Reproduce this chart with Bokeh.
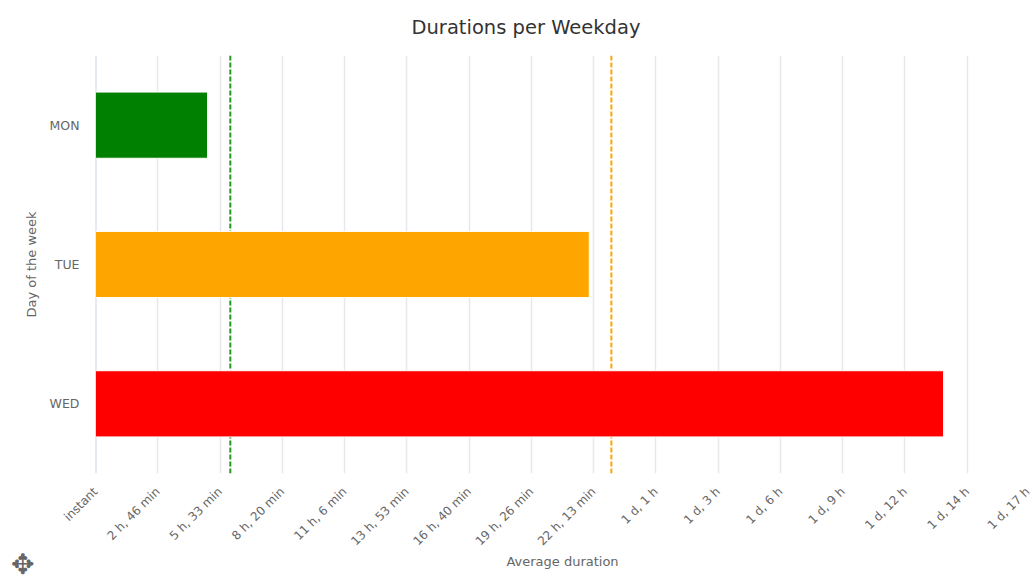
import math
from bokeh.plotting import figure
from bokeh.models import FixedTicker, Span, Title
from bokeh.embed import file_html
from bokeh.resources import INLINE

days = ["MON", "TUE", "WED"]
durations = [18000, 79300, 136200]
bar_colors = ["green", "orange", "red"]
tick_values = [i * 10000 for i in range(16)]
tick_labels = ["instant", "2 h, 46 min", "5 h, 33 min", "8 h, 20 min", "11 h, 6 min",
               "13 h, 53 min", "16 h, 40 min", "19 h, 26 min", "22 h, 13 min", "1 d, 1 h",
               "1 d, 3 h", "1 d, 6 h", "1 d, 9 h", "1 d, 12 h", "1 d, 14 h", "1 d, 17 h"]
green_threshold = 21650
orange_threshold = 82850
FONT = "DejaVu Sans"

p = figure(width=1032, height=580, output_backend="svg", toolbar_location=None,
           x_range=(0, 150000), y_range=list(reversed(days)),
           min_border_left=95, min_border_right=3, min_border_top=55, min_border_bottom=107,
           outline_line_color=None, background_fill_color="white", border_fill_color="white")

p.title = Title(text="Durations per Weekday", align="left", offset=316, standoff=30, vertical_align="top",
                text_font=FONT, text_font_size="19.5px", text_font_style="normal",
                text_color="#333333")

p.xgrid.ticker = FixedTicker(ticks=tick_values)
p.xgrid.grid_line_color = "#e8e8ec"
p.xgrid.grid_line_width = 1.5
p.ygrid.grid_line_color = None

p.add_layout(Span(location=0, dimension="height", line_color="#ccd6eb", line_width=2, level="underlay"))
p.add_layout(Span(location=green_threshold, dimension="height", line_color="#1f9a1f", line_width=2,
                  line_dash="5 2", level="underlay"))
p.add_layout(Span(location=orange_threshold, dimension="height", line_color="orange", line_width=2,
                  line_dash="5 2", level="underlay"))

p.hbar(y=days, left=0, right=durations, height=0.475, fill_color=bar_colors,
       line_color="white", line_width=1)

xa = p.below[0]
xa.ticker = FixedTicker(ticks=tick_values)
xa.major_label_overrides = dict(zip(tick_values, tick_labels))
xa.major_label_orientation = math.pi / 4
xa.major_label_standoff = 10
xa.major_label_text_font = FONT
xa.major_label_text_font_size = "12px"
xa.major_label_text_color = "#666666"
xa.axis_line_color = None
xa.major_tick_line_color = None
xa.minor_tick_line_color = None
xa.axis_label = "Average duration"
xa.axis_label_text_font = FONT
xa.axis_label_text_font_size = "13px"
xa.axis_label_text_font_style = "normal"
xa.axis_label_text_color = "#666666"
xa.axis_label_standoff = -2

ya = p.yaxis[0]
ya.major_label_standoff = 10
ya.major_label_text_font = FONT
ya.major_label_text_font_size = "12.5px"
ya.major_label_text_color = "#666666"
ya.axis_line_color = None
ya.major_tick_line_color = None
ya.minor_tick_line_color = None
ya.axis_label = "Day of the week"
ya.axis_label_text_font = FONT
ya.axis_label_text_font_size = "13px"
ya.axis_label_text_font_style = "normal"
ya.axis_label_text_color = "#666666"
ya.axis_label_standoff = 8

p.add_layout(Title(text="✥", align="left", offset=-102, standoff=-38,
                   text_font=FONT, text_font_size="28px", text_font_style="normal",
                   text_color="#666666"), "left")

open("out.html", "w").write(file_html(p, INLINE))
